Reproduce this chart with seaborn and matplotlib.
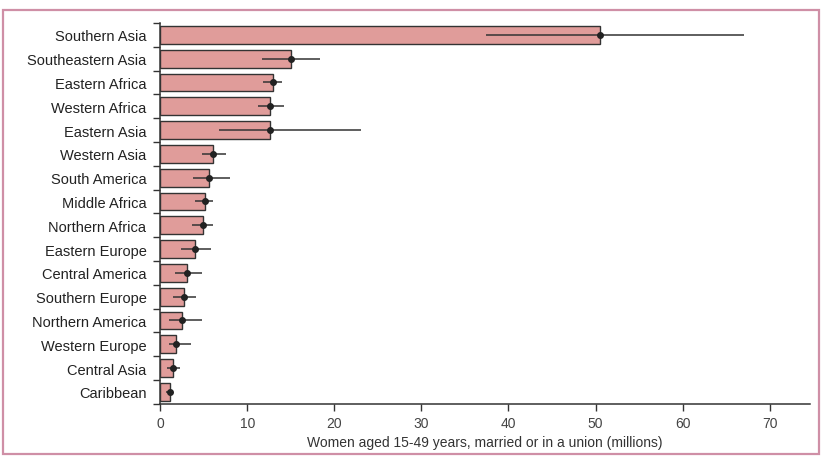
import matplotlib
matplotlib.use("Agg")
import matplotlib.pyplot as plt
import seaborn as sns
import numpy as np
import pandas as pd
from matplotlib.patches import Rectangle

# --- data ---
regions = ["Southern Asia", "Southeastern Asia", "Eastern Africa", "Western Africa",
           "Eastern Asia", "Western Asia", "South America", "Middle Africa",
           "Northern Africa", "Eastern Europe", "Central America", "Southern Europe",
           "Northern America", "Western Europe", "Central Asia", "Caribbean"]
women = [50.5, 15.0, 13.0, 12.6, 12.6, 6.1, 5.6, 5.1, 4.9, 4.0, 3.1, 2.7, 2.5, 1.8, 1.5, 1.1]
low = [37.4, 11.7, 11.8, 11.2, 6.8, 4.8, 3.8, 4.0, 3.6, 2.4, 1.7, 1.5, 1.0, 1.0, 0.8, 0.6]
high = [67.0, 18.3, 14.0, 14.2, 23.1, 7.6, 8.0, 6.1, 6.1, 5.8, 4.8, 4.1, 4.8, 3.5, 2.3, 1.5]

df = pd.DataFrame({"region": regions, "women": women})

sns.set_theme(style="ticks")
plt.rcParams["font.family"] = ["Liberation Sans Narrow", "Liberation Sans", "DejaVu Sans"]

fig = plt.figure(figsize=(8.22, 4.6), dpi=100)
ax = fig.add_axes([0.195, 0.12, 0.79, 0.828])

sns.barplot(data=df, x="women", y="region", orient="h", color="#e09c9a",
            edgecolor="#333333", linewidth=1.0, width=0.75, saturation=1, ax=ax)

ypos = np.arange(len(regions))
xerr = [np.array(women) - np.array(low), np.array(high) - np.array(women)]
ax.errorbar(women, ypos, xerr=xerr, fmt="o", color="#222222", ecolor="#333333",
            markersize=4, elinewidth=1.1, capsize=0)

ax.set_xlim(0, 74.6)
ax.set_ylim(len(regions) - 0.5, -0.5)
ax.set_xticks(range(0, 71, 10))
ax.set_xlabel("Women aged 15-49 years, married or in a union (millions)",
              fontsize=10, color="#333333", labelpad=4)
ax.set_ylabel("")
ax.tick_params(axis="y", length=0, labelsize=10.5, labelcolor="#222222", pad=10)
ax.tick_params(axis="x", labelsize=10, labelcolor="#444444", length=5, width=1, color="#333333")
ax.set_yticks(np.arange(-0.5, len(regions), 1.0), minor=True)
ax.tick_params(axis="y", which="minor", length=5, width=1, color="#333333")
sns.despine(ax=ax, top=True, right=True)
for s in ["left", "bottom"]:
    ax.spines[s].set_color("#333333")
    ax.spines[s].set_linewidth(1.1)

# pink frame around the figure
fig.patches.append(Rectangle((0.004, 0.01), 0.992, 0.966, transform=fig.transFigure,
                             fill=False, edgecolor="#cf8fa6", linewidth=1.6))

fig.savefig("out.png", dpi=100)
